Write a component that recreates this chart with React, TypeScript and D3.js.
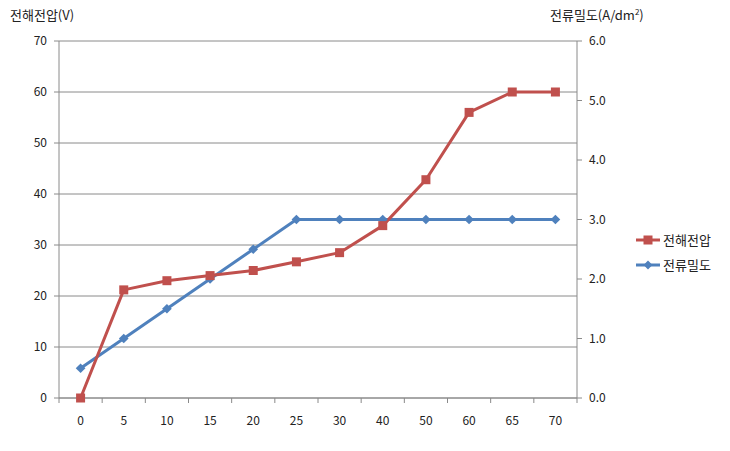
import React from "react";
import * as d3 from "d3";

const categories = ["0", "5", "10", "15", "20", "25", "30", "40", "50", "60", "65", "70"];
const voltage = [0, 21.2, 23, 24, 25, 26.7, 28.5, 33.8, 42.8, 56, 60, 60];
const density = [0.5, 1.0, 1.5, 2.0, 2.5, 3.0, 3.0, 3.0, 3.0, 3.0, 3.0, 3.0];
const leftTicks = [0, 10, 20, 30, 40, 50, 60, 70];
const rightTicks = [0, 1, 2, 3, 4, 5, 6];
const seriesNames = ["전해전압", "전류밀도"];

const RED = "#C0504D";
const BLUE = "#4F81BD";
const FONT = "'Noto Sans CJK KR', 'Noto Sans', sans-serif";

export default function App() {
  const W = 730, H = 451;
  const left = 59, right = 577, top = 41, bottom = 398;
  const x = d3.scaleBand().domain(categories).range([left, right]);
  const yL = d3.scaleLinear().domain([0, 70]).range([bottom, top]);
  const yR = d3.scaleLinear().domain([0, 6]).range([bottom, top]);
  const cx = (c: string) => (x(c) as number) + x.bandwidth() / 2;

  const lineL = d3.line<number>().x((_, i) => cx(categories[i])).y((d) => yL(d));
  const lineR = d3.line<number>().x((_, i) => cx(categories[i])).y((d) => yR(d));

  const boundaries = categories.map((c) => x(c) as number).concat([right]);

  return (
    <svg width={W} height={H} style={{ position: "absolute", left: 0, top: 0, background: "#fff" }} fontFamily={FONT}>
      <rect width={W} height={H} fill="#fff" />
      {/* gridlines */}
      {leftTicks.map((t) => (
        <line key={"g" + t} x1={left} x2={right} y1={yL(t)} y2={yL(t)} stroke="#8a8a8a" strokeWidth={1} />
      ))}
      {/* left axis */}
      <line x1={left} x2={left} y1={top} y2={bottom} stroke="#8a8a8a" />
      {leftTicks.map((t) => (
        <g key={"l" + t}>
          <line x1={left - 5} x2={left} y1={yL(t)} y2={yL(t)} stroke="#8a8a8a" />
          <text x={left - 12} y={yL(t)} dy="0.35em" textAnchor="end" fontSize={12} fill="#222">{t}</text>
        </g>
      ))}
      {/* right axis */}
      <line x1={right} x2={right} y1={top} y2={bottom} stroke="#8a8a8a" />
      {rightTicks.map((t) => (
        <g key={"r" + t}>
          <line x1={right} x2={right + 5} y1={yR(t)} y2={yR(t)} stroke="#8a8a8a" />
          <text x={right + 12} y={yR(t)} dy="0.35em" textAnchor="start" fontSize={12} fill="#222">{t.toFixed(1)}</text>
        </g>
      ))}
      {/* bottom axis */}
      <line x1={left} x2={right} y1={bottom} y2={bottom} stroke="#8a8a8a" />
      {boundaries.map((b, i) => (
        <line key={"b" + i} x1={b} x2={b} y1={bottom} y2={bottom + 5} stroke="#8a8a8a" />
      ))}
      {categories.map((c) => (
        <text key={"c" + c} x={cx(c)} y={bottom + 27} textAnchor="middle" fontSize={12} fill="#222">{c}</text>
      ))}
      {/* axis titles */}
      <text x={10} y={20} fontSize={13} fill="#222">전해전압(V)</text>
      <text x={550} y={20} fontSize={13} fill="#222">
        전류밀도(A/dm<tspan fontSize={8} dy={-5}>2</tspan><tspan dy={5}>)</tspan>
      </text>
      {/* series */}
      <path d={lineR(density) || ""} fill="none" stroke={BLUE} strokeWidth={3} strokeLinejoin="round" />
      <path d={lineL(voltage) || ""} fill="none" stroke={RED} strokeWidth={3} strokeLinejoin="round" />
      {density.map((d, i) => (
        <path key={"d" + i} d={d3.symbol(d3.symbolDiamond2, 60)() || ""} transform={`translate(${cx(categories[i])},${yR(d)})`} fill={BLUE} />
      ))}
      {voltage.map((d, i) => (
        <rect key={"v" + i} x={cx(categories[i]) - 4.5} y={yL(d) - 4.5} width={9} height={9} fill={RED} />
      ))}
      {/* legend */}
      <g>
        <line x1={636} x2={660} y1={240} y2={240} stroke={RED} strokeWidth={3} />
        <rect x={643.5} y={235.5} width={9} height={9} fill={RED} />
        <text x={663} y={240} dy="0.35em" fontSize={13} fill="#222">{seriesNames[0]}</text>
        <line x1={636} x2={660} y1={265} y2={265} stroke={BLUE} strokeWidth={3} />
        <path d={d3.symbol(d3.symbolDiamond2, 50)() || ""} transform="translate(648,265)" fill={BLUE} />
        <text x={663} y={265} dy="0.35em" fontSize={13} fill="#222">{seriesNames[1]}</text>
      </g>
    </svg>
  );
}
